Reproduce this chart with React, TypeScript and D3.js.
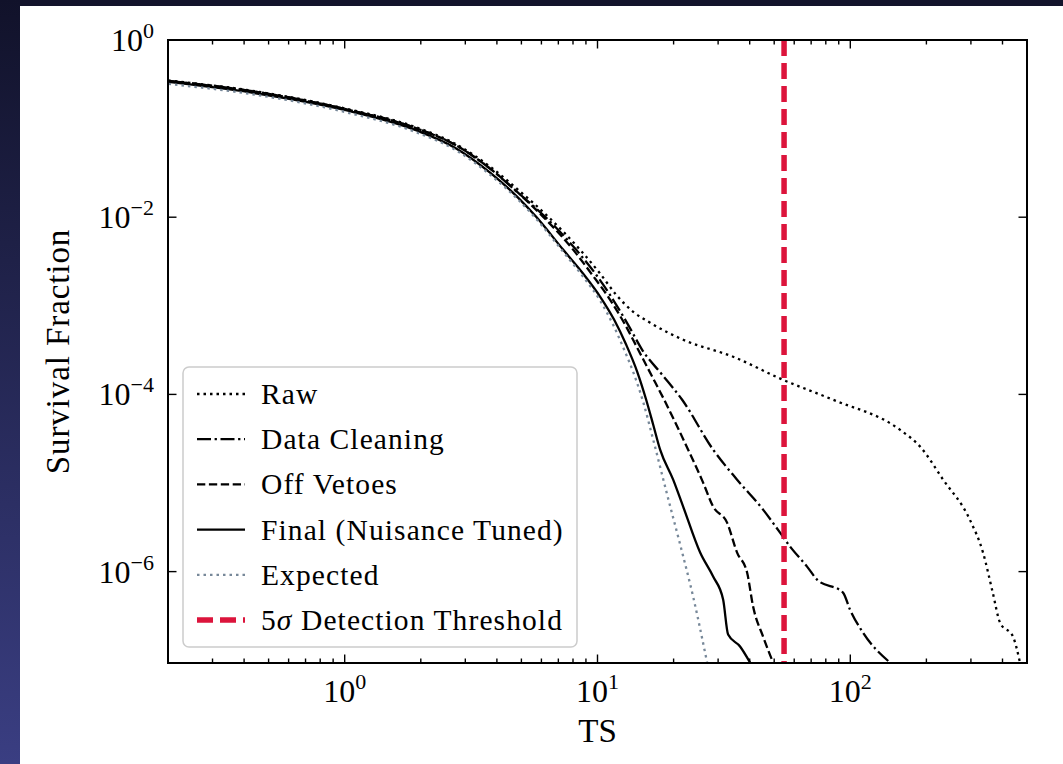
import React from "react";
import * as d3 from "d3";

const WIDTH = 1063;
const HEIGHT = 764;
const PLOT = { left: 168, right: 1027, top: 40, bottom: 663 };
const X_DOMAIN = [0.2, 500];
const Y_DOMAIN = [9.3e-8, 1];
const FONT = "'Liberation Serif', 'DejaVu Serif', serif";

const X_MAJOR = [1, 10, 100];
const X_MAJOR_EXP = ["0", "1", "2"];
const Y_MAJOR = [1, 1e-2, 1e-4, 1e-6];
const Y_MAJOR_EXP = ["0", "\u22122", "\u22124", "\u22126"];

const THRESHOLD_TS = 54.7;

// survival curves
const TS_RAW = [0.201, 0.424, 1.0, 1.9, 2.74, 3.77, 4.86, 6.39, 8.54, 10.25, 11.86, 13.84, 16.16, 21.82, 34.4, 54.2, 85.4, 157, 189, 233, 297, 335, 366, 391, 440, 469];
const SF_RAW = [0.349, 0.269, 0.169, 0.1044, 0.0672, 0.037, 0.0203, 0.01009, 0.00428, 0.0023, 0.00133, 0.000856, 0.000643, 0.000414, 0.000266, 0.000146, 8.71e-5, 4.0e-5, 2.57e-5, 1.09e-5, 3.86e-6, 1.64e-6, 5.8e-7, 2.66e-7, 1.85e-7, 9.4e-8];

const TS_CLEAN = [0.201, 0.424, 1.0, 1.9, 2.74, 3.77, 4.86, 6.21, 8.24, 9.88, 11.53, 13.22, 15.02, 18.02, 21.62, 28.67, 35.66, 45.18, 52.74, 57.78, 67.45, 73.85, 93.56, 99.7, 112.2, 143.6];
const SF_CLEAN = [0.345, 0.266, 0.1667, 0.1018, 0.0654, 0.0351, 0.0188, 0.01009, 0.00428, 0.00224, 0.001169, 0.00061, 0.000319, 0.0001667, 8.71e-5, 2.38e-5, 1.09e-5, 5.01e-6, 2.75e-6, 1.915e-6, 1.139e-6, 8.13e-7, 5.8e-7, 3.73e-7, 2.05e-7, 9.4e-8];

const TS_VETO = [0.201, 0.424, 1.0, 1.9, 2.74, 3.77, 4.86, 6.1, 8.02, 9.53, 11.22, 12.87, 14.49, 16.31, 18.35, 22.83, 26.17, 28.67, 32.55, 35.66, 39.06, 41.26, 45.18, 49.5];
const SF_VETO = [0.345, 0.266, 0.1667, 0.1018, 0.0654, 0.0351, 0.0188, 0.01009, 0.00428, 0.00224, 0.001169, 0.00061, 0.000319, 0.0001667, 8.71e-5, 2.38e-5, 1.01e-5, 5.41e-6, 3.57e-6, 1.64e-6, 9.75e-7, 4.03e-7, 1.85e-7, 9.4e-8];

const TS_FINAL = [0.201, 0.424, 1.0, 1.9, 2.74, 3.77, 4.86, 5.72, 7.32, 8.78, 10.25, 11.64, 12.99, 14.36, 15.58, 16.61, 17.69, 19.92, 21.82, 25.47, 28.67, 31.4, 32.86, 36.64, 40.14];
const SF_FINAL = [0.336, 0.256, 0.1624, 0.0966, 0.0605, 0.0316, 0.01652, 0.01009, 0.00428, 0.0023, 0.001264, 0.000695, 0.000363, 0.00018, 8.71e-5, 4.55e-5, 2.38e-5, 1.09e-5, 5.41e-6, 1.64e-6, 8.79e-7, 4.84e-7, 1.95e-7, 1.43e-7, 9.4e-8];

const TS_EXPECTED = [0.201, 0.424, 1.0, 1.9, 2.74, 3.77, 4.86, 5.72, 7.32, 8.78, 10.25, 11.53, 12.75, 13.97, 15.15, 16.61, 18.86, 21.23, 23.89, 27.14];
const SF_EXPECTED = [0.319, 0.246, 0.1542, 0.0918, 0.0575, 0.03, 0.01569, 0.00958, 0.00406, 0.002124, 0.001139, 0.00061, 0.000319, 0.0001667, 8.27e-5, 3.08e-5, 7.39e-6, 2.02e-6, 5.23e-7, 9.4e-8];

const SERIES = [
  { label: "Raw", ts: TS_RAW, sf: SF_RAW, color: "#000000", dash: "2.5,4" },
  { label: "Data Cleaning", ts: TS_CLEAN, sf: SF_CLEAN, color: "#000000", dash: "14,3.6,2.3,3.6" },
  { label: "Off Vetoes", ts: TS_VETO, sf: SF_VETO, color: "#000000", dash: "8.3,3.6" },
  { label: "Final (Nuisance Tuned)", ts: TS_FINAL, sf: SF_FINAL, color: "#000000", dash: null },
  { label: "Expected", ts: TS_EXPECTED, sf: SF_EXPECTED, color: "#778899", dash: "2.5,4" },
];

const x = d3.scaleLog().domain(X_DOMAIN).range([PLOT.left, PLOT.right]);
const y = d3.scaleLog().domain(Y_DOMAIN).range([PLOT.bottom, PLOT.top]);
const line = d3
  .line<[number, number]>()
  .x((d) => x(d[0]))
  .y((d) => y(d[1]))
  .curve(d3.curveMonotoneX);

const RED = "#dc143c";
const LEGEND = { x: 183, y: 367, w: 394, h: 280, row0: 394, step: 45.2, hx0: 197, hx1: 245, tx: 261 };

export default function App() {
  const minorX = x.ticks().filter((t) => !X_MAJOR.some((m) => Math.abs(m - t) < 1e-9));

  return (
    <div style={{ position: "absolute", left: 0, top: 0 }}>
      <svg width={WIDTH} height={HEIGHT} style={{ display: "block" }} fontFamily={FONT}>
        <defs>
          <linearGradient id="side" x1="0" y1="0" x2="0" y2="1">
            <stop offset="0" stopColor="#11122a" />
            <stop offset="1" stopColor="#3a3e82" />
          </linearGradient>
          <clipPath id="plotclip">
            <rect x={PLOT.left} y={PLOT.top} width={PLOT.right - PLOT.left} height={PLOT.bottom - PLOT.top} />
          </clipPath>
        </defs>

        {/* page background */}
        <rect x={0} y={0} width={WIDTH} height={HEIGHT} fill="#13142b" />
        <rect x={0} y={0} width={20} height={HEIGHT} fill="url(#side)" />
        <rect x={20} y={6} width={WIDTH - 20} height={HEIGHT - 6} fill="#ffffff" />

        {/* curves */}
        <g clipPath="url(#plotclip)">
          {SERIES.map((s) => (
            <path
              key={s.label}
              d={line(s.ts.map((t, i) => [t, s.sf[i]] as [number, number])) || ""}
              fill="none"
              stroke={s.color}
              strokeWidth={2.3}
              strokeDasharray={s.dash || undefined}
            />
          ))}
          <line
            x1={x(THRESHOLD_TS)}
            x2={x(THRESHOLD_TS)}
            y1={PLOT.top}
            y2={PLOT.bottom}
            stroke={RED}
            strokeWidth={5.5}
            strokeDasharray="16,7"
          />
        </g>

        {/* ticks, inward on all sides */}
        <g stroke="#000" strokeWidth={1.4}>
          {minorX.map((t) => (
            <g key={"mx" + t}>
              <line x1={x(t)} x2={x(t)} y1={PLOT.bottom} y2={PLOT.bottom - 4.5} />
              <line x1={x(t)} x2={x(t)} y1={PLOT.top} y2={PLOT.top + 4.5} />
            </g>
          ))}
          {X_MAJOR.map((t) => (
            <g key={"Mx" + t}>
              <line x1={x(t)} x2={x(t)} y1={PLOT.bottom} y2={PLOT.bottom - 8.5} />
              <line x1={x(t)} x2={x(t)} y1={PLOT.top} y2={PLOT.top + 8.5} />
            </g>
          ))}
          {Y_MAJOR.map((t) => (
            <g key={"My" + t}>
              <line x1={PLOT.left} x2={PLOT.left + 8.5} y1={y(t)} y2={y(t)} />
              <line x1={PLOT.right} x2={PLOT.right - 8.5} y1={y(t)} y2={y(t)} />
            </g>
          ))}
        </g>

        {/* frame */}
        <rect
          x={PLOT.left}
          y={PLOT.top}
          width={PLOT.right - PLOT.left}
          height={PLOT.bottom - PLOT.top}
          fill="none"
          stroke="#000"
          strokeWidth={2}
        />

        {/* tick labels */}
        {X_MAJOR.map((t, i) => (
          <text key={"lx" + t} x={x(t)} y={702} textAnchor="middle" fontSize={32} fill="#000">
            10
            <tspan fontSize={22} dy={-13}>
              {X_MAJOR_EXP[i]}
            </tspan>
          </text>
        ))}
        {Y_MAJOR.map((t, i) => (
          <text key={"ly" + t} x={154} y={y(t) + 11} textAnchor="end" fontSize={32} fill="#000">
            10
            <tspan fontSize={22} dy={-13}>
              {Y_MAJOR_EXP[i]}
            </tspan>
          </text>
        ))}

        {/* axis labels */}
        <text x={(PLOT.left + PLOT.right) / 2} y={742} textAnchor="middle" fontSize={33} fill="#000">
          TS
        </text>
        <text
          transform={`translate(69,${(PLOT.top + PLOT.bottom) / 2}) rotate(-90)`}
          textAnchor="middle"
          fontSize={33}
          letterSpacing={0.9}
          fill="#000"
        >
          Survival Fraction
        </text>

        {/* legend */}
        <rect
          x={LEGEND.x}
          y={LEGEND.y}
          width={LEGEND.w}
          height={LEGEND.h}
          rx={6}
          fill="#ffffff"
          fillOpacity={0.85}
          stroke="#cccccc"
          strokeWidth={1.5}
        />
        {SERIES.map((s, i) => {
          const cy = LEGEND.row0 + i * LEGEND.step;
          return (
            <g key={"leg" + s.label}>
              <line
                x1={LEGEND.hx0}
                x2={LEGEND.hx1}
                y1={cy}
                y2={cy}
                stroke={s.color}
                strokeWidth={2.3}
                strokeDasharray={s.dash || undefined}
              />
              <text x={LEGEND.tx} y={cy + 10} fontSize={29.5} letterSpacing={1.1} fill="#000">
                {s.label}
              </text>
            </g>
          );
        })}
        <g>
          <line
            x1={LEGEND.hx0}
            x2={LEGEND.hx1}
            y1={LEGEND.row0 + 5 * LEGEND.step}
            y2={LEGEND.row0 + 5 * LEGEND.step}
            stroke={RED}
            strokeWidth={5.5}
            strokeDasharray="16,7"
          />
          <text
            x={LEGEND.tx}
            y={LEGEND.row0 + 5 * LEGEND.step + 10}
            fontSize={29.5}
            letterSpacing={1.1}
            fill="#000"
          >
            5<tspan fontStyle="italic">{"\u03c3"}</tspan> Detection Threshold
          </text>
        </g>
      </svg>
    </div>
  );
}
